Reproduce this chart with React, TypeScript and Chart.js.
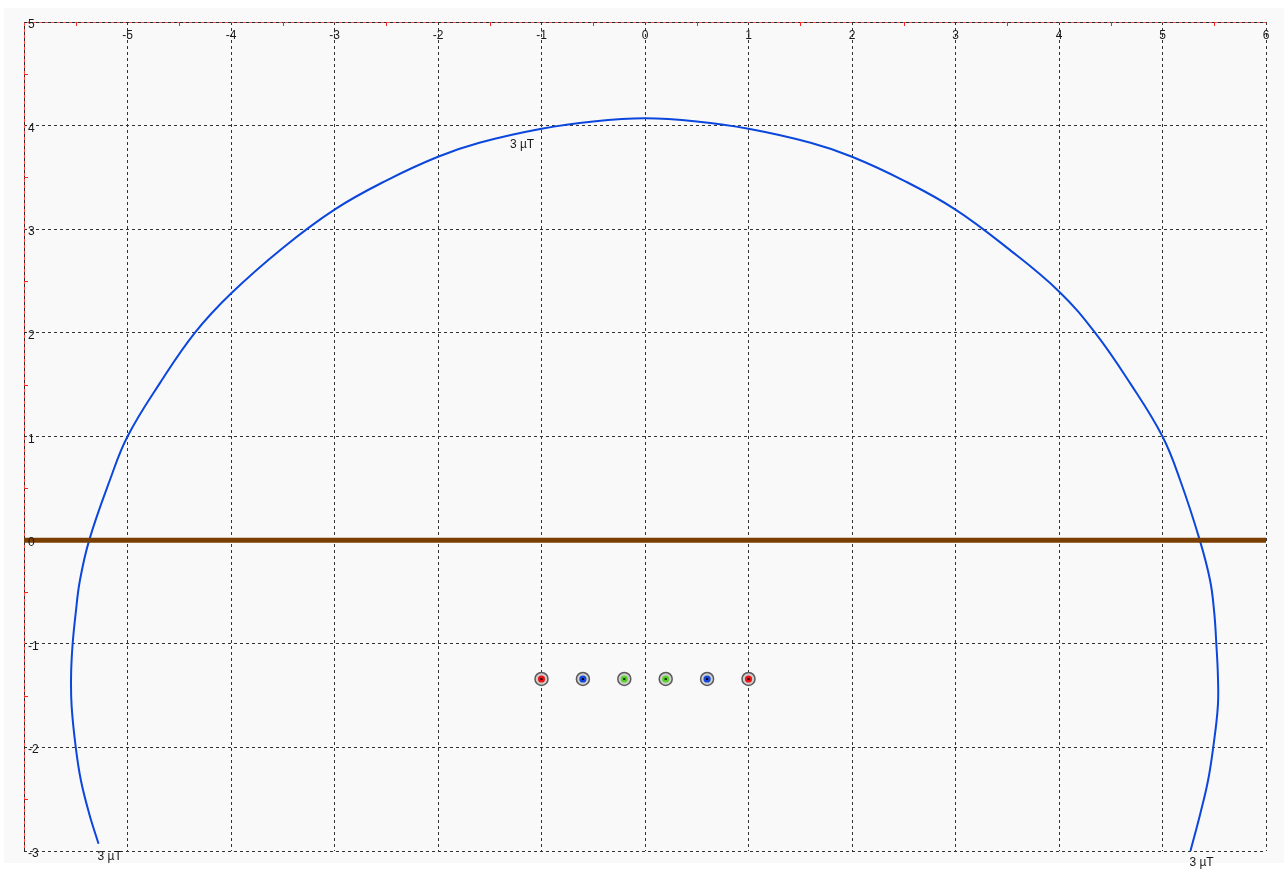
import React, { useEffect, useRef } from "react";
import { Chart, registerables } from "chart.js";

Chart.register(...registerables);

// Axis ranges and tick labels
const X_MIN = -6;
const X_MAX = 6;
const Y_MIN = -3;
const Y_MAX = 5;
const xTickLabels = [-5, -4, -3, -2, -1, 0, 1, 2, 3, 4, 5, 6];
const yTickLabels = [5, 4, 3, 2, 1, 0, -1, -2, -3];

// 3 µT field contour
const contourX = [
  -5.28, -5.37, -5.45, -5.5, -5.54, -5.545, -5.53, -5.5, -5.46, -5.37, -5.17, -5.0, -4.69, -4.35,
  -4.0, -3.5, -3.0, -2.5, -2.0, -1.6, -1.0, -0.5, 0.0, 0.5, 1.0, 1.6, 2.0, 2.5, 3.0, 3.5, 4.0,
  4.35, 4.69, 5.0, 5.17, 5.36, 5.46, 5.5, 5.52, 5.535, 5.535, 5.49, 5.44, 5.365, 5.27,
];
const contourY = [
  -2.93, -2.64, -2.32, -2.0, -1.6, -1.3, -1.0, -0.7, -0.39, 0.0, 0.58, 1.0, 1.51, 2.0,
  2.38, 2.82, 3.19, 3.47, 3.7, 3.835, 3.97, 4.04, 4.07, 4.04, 3.97, 3.835, 3.7, 3.47, 3.19, 2.82, 2.4,
  2.0, 1.51, 1.0, 0.58, 0.0, -0.39, -0.7, -1.0, -1.3, -1.6, -2.0, -2.32, -2.64, -3.0,
];

// Ground line
const groundX = [-6, 6];
const groundY = [0, 0];

// Conductors
const conductorX = [-1.0, -0.6, -0.2, 0.2, 0.6, 1.0];
const conductorY = [-1.34, -1.34, -1.34, -1.34, -1.34, -1.34];
const conductorColors = ["#f01414", "#1446e0", "#5ad428", "#5ad428", "#1446e0", "#f01414"];

// Contour labels (text baseline-left anchor points)
const contourLabelText = ["3 µT", "3 µT", "3 µT"];
const contourLabelX = [-1.305, -5.29, 5.26];
const contourLabelY = [3.78, -3.09, -3.14];

const FONT = '12px "Liberation Sans", Arial, sans-serif';

const overlayPlugin = {
  id: "overlay",
  beforeDatasetsDraw(chart: any) {
    const { ctx, chartArea } = chart;
    const { left, top, right, bottom } = chartArea;
    const xs = chart.scales.x;
    const ys = chart.scales.y;
    ctx.save();
    ctx.lineWidth = 1;
    const framePath = () => {
      ctx.beginPath();
      ctx.moveTo(Math.round(left) + 0.5, bottom);
      ctx.lineTo(Math.round(left) + 0.5, Math.round(top) + 0.5);
      ctx.lineTo(right, Math.round(top) + 0.5);
    };
    ctx.setLineDash([]);
    ctx.strokeStyle = "#ff4a4a";
    framePath();
    ctx.stroke();
    ctx.setLineDash([3, 3]);
    ctx.strokeStyle = "#2a2a2a";
    framePath();
    ctx.stroke();
    ctx.setLineDash([]);
    ctx.strokeStyle = "#ff2020";
    ctx.beginPath();
    xTickLabels.forEach((v) => {
      const px = Math.round(xs.getPixelForValue(v - 0.5)) + 0.5;
      ctx.moveTo(px, top);
      ctx.lineTo(px, top + 4);
    });
    yTickLabels.forEach((v) => {
      if (v - 0.5 < Y_MIN) return;
      const py = Math.round(ys.getPixelForValue(v - 0.5)) + 0.5;
      ctx.moveTo(left, py);
      ctx.lineTo(left + 4, py);
    });
    ctx.stroke();
    ctx.restore();
  },
  afterDraw(chart: any) {
    const { ctx, chartArea } = chart;
    const { left, top } = chartArea;
    const xs = chart.scales.x;
    const ys = chart.scales.y;
    ctx.save();
    ctx.font = FONT;
    ctx.fillStyle = "#1a1a1a";
    ctx.textBaseline = "alphabetic";
    ctx.textAlign = "center";
    xTickLabels.forEach((v) => {
      ctx.fillText(String(v), xs.getPixelForValue(v), top + 17);
    });
    ctx.textAlign = "left";
    yTickLabels.forEach((v) => {
      ctx.fillText(String(v), left + 4, ys.getPixelForValue(v) + 6);
    });
    contourLabelText.forEach((t, i) => {
      ctx.fillText(t, xs.getPixelForValue(contourLabelX[i]), ys.getPixelForValue(contourLabelY[i]));
    });
    ctx.restore();
  },
};

export default function App() {
  const canvasRef = useRef<HTMLCanvasElement | null>(null);

  useEffect(() => {
    if (!canvasRef.current) return;
    const contour = contourX.map((x, i) => ({ x, y: contourY[i] }));
    const ground = groundX.map((x, i) => ({ x, y: groundY[i] }));
    const conductors = conductorX.map((x, i) => ({ x, y: conductorY[i] }));

    const gridCfg = (min: number, max: number) => ({
      type: "linear" as const,
      min,
      max,
      ticks: { stepSize: 1, display: false },
      grid: { color: "#333333", lineWidth: 1, drawTicks: false },
      border: { display: false, dash: [3, 3] },
    });

    const chart = new Chart(canvasRef.current, {
      type: "scatter",
      data: {
        datasets: [
          {
            data: conductors,
            pointStyle: "crossRot",
            pointRadius: 1.6,
            borderColor: "#000",
            borderWidth: 1,
            backgroundColor: "#000",
            order: 0,
          },
          {
            data: conductors,
            pointRadius: 3.6,
            backgroundColor: conductorColors,
            borderWidth: 0,
            order: 1,
          },
          {
            data: conductors,
            pointRadius: 6.5,
            backgroundColor: "#cfcfcf",
            borderColor: "#5a5a5a",
            borderWidth: 1.5,
            order: 2,
          },
          {
            data: ground,
            showLine: true,
            borderColor: "#7a3f00",
            borderWidth: 5,
            pointRadius: 0,
            order: 3,
          },
          {
            data: contour,
            showLine: true,
            borderColor: "#0b47dc",
            borderWidth: 2,
            pointRadius: 0,
            tension: 0.4,
            order: 4,
          },
        ] as any,
      },
      options: {
        animation: false,
        responsive: false,
        maintainAspectRatio: false,
        events: [],
        layout: { padding: { left: 24, top: 22, right: 22, bottom: 29 }, autoPadding: false },
        plugins: { legend: { display: false }, tooltip: { enabled: false } },
        scales: {
          x: gridCfg(X_MIN, X_MAX),
          y: gridCfg(Y_MIN, Y_MAX),
        } as any,
      },
      plugins: [overlayPlugin],
    });
    return () => chart.destroy();
  }, []);

  return (
    <div
      style={{
        position: "fixed",
        left: 0,
        top: 0,
        width: 1288,
        height: 880,
        background: "#ffffff",
        overflow: "hidden",
      }}
    >
      <div
        style={{
          position: "absolute",
          left: 4,
          top: 8,
          width: 1280,
          height: 855,
          background: "#f9f9f9",
        }}
      />
      <canvas
        ref={canvasRef}
        width={1288}
        height={880}
        style={{ position: "absolute", left: 0, top: 0, width: 1288, height: 880 }}
      />
    </div>
  );
}
